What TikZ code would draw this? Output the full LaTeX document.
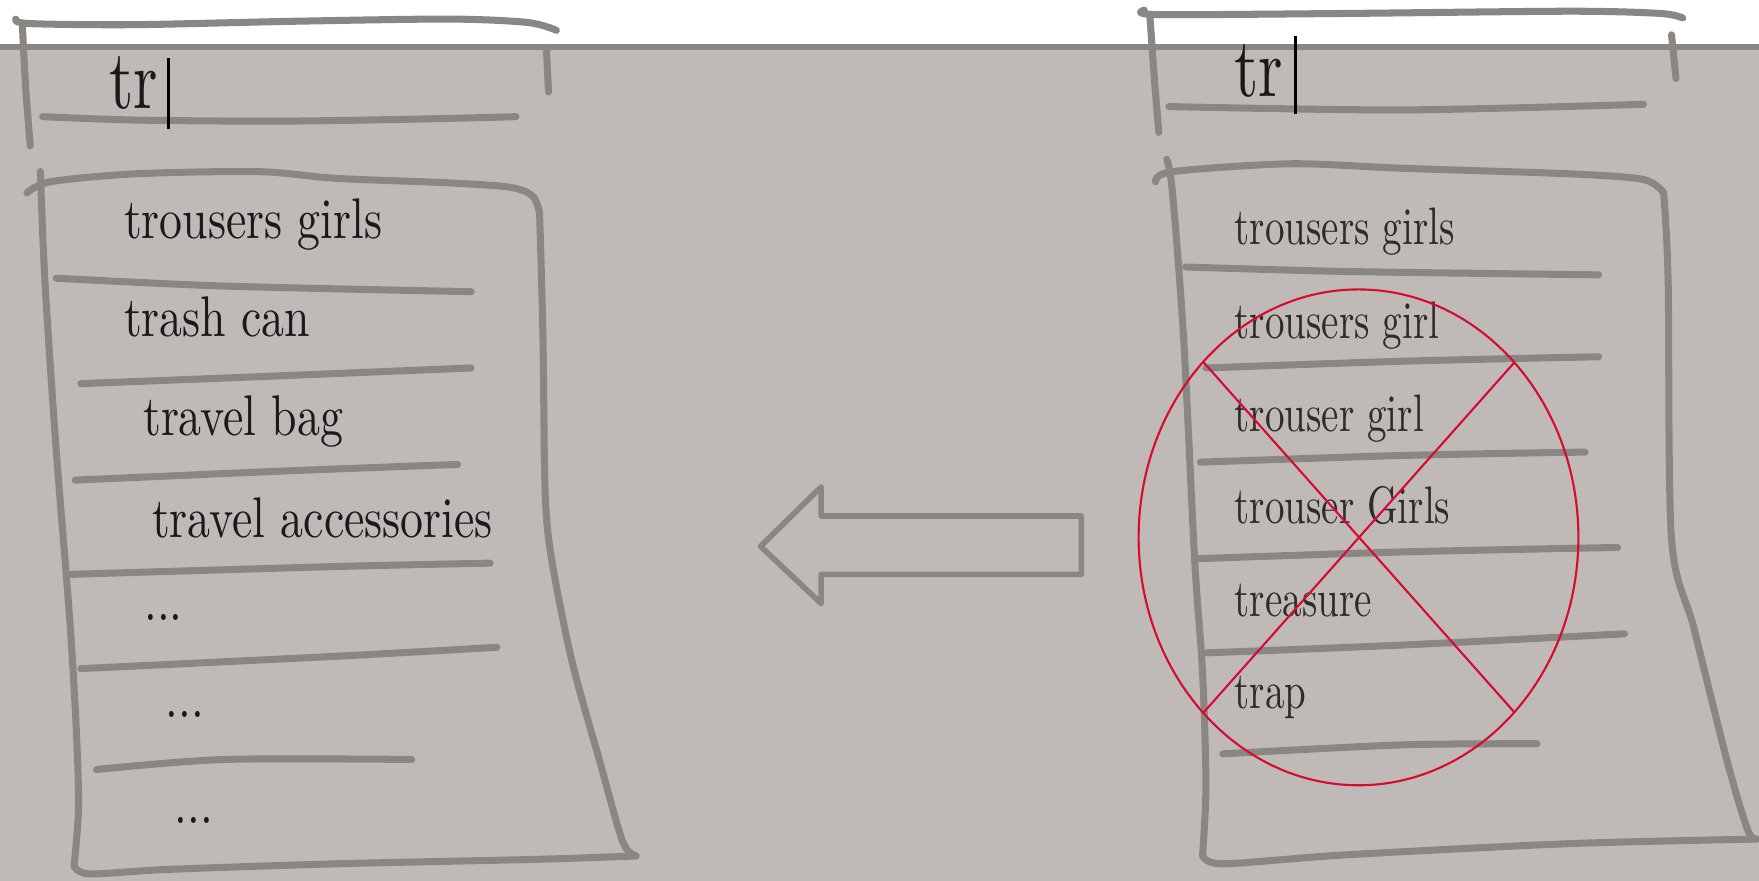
\documentclass[tikz,border=0pt]{standalone}
\usepackage{fontspec}
\newfontfamily\handfont{lmroman10-regular}[Extension=.otf, FakeStretch=0.8]
\newfontfamily\narrowfont{lmroman10-regular}[Extension=.otf, FakeStretch=0.74]
\definecolor{paper}{HTML}{BFBAB7}
\definecolor{penGray}{HTML}{898684}
\definecolor{inkDark}{HTML}{1A1A1A}
\definecolor{inkSoft}{HTML}{2E2C2B}
\definecolor{crossRed}{HTML}{D80A2E}
\tikzset{
  pen/.style={draw=penGray, line width=2pt, line cap=round, line join=round},
  item/.style={anchor=base west, inner sep=0pt, text=inkDark, font=\handfont\fontsize{16.3}{18}\selectfont},
  oldItem/.style={anchor=base west, inner sep=0pt, text=inkSoft, font=\narrowfont\fontsize{15}{17}\selectfont},
  query/.style={anchor=base west, inner sep=0pt, text=inkDark, font=\narrowfont\fontsize{24}{26}\selectfont},
  cursor/.style={draw=black, line width=0.9pt},
  cross/.style={draw=crossRed, line width=0.6pt},
}
\begin{document}
\begin{tikzpicture}[x=0.011218cm, y=-0.011218cm]
  \useasboundingbox (0,0) rectangle (1568,785);
  \fill[white] (0,0) rectangle (1568,42);
  \fill[paper] (0,42) rectangle (1568,785);
  \draw[draw=penGray, line width=1.6pt] (0,42) -- (1568,42);

  % left: search field and new suggestions
  \draw[pen] plot[smooth] coordinates {(14,17) (26,21) (120,22) (260,19) (400,17) (470,20) (496,27)};
  \draw[pen] plot[smooth] coordinates {(20,24) (23,80) (27,130)};
  \draw[pen] (487,42) -- (489,82);
  \draw[pen] plot[smooth] coordinates {(38,104) (120,107) (250,108) (380,106) (460,104)};
  \node[query] (qL) at (97,97) {tr};
  \coordinate (curLtop) at (150,52);
  \coordinate (curLbot) at (150,115);
  \draw[cursor] (curLtop) -- (curLbot);

  \draw[pen] plot[smooth] coordinates {(24,172) (45,162) (120,155) (230,153) (300,159) (400,163) (455,167) (475,175) (481,190)};
  \draw[pen] plot[smooth] coordinates {(481,190) (484,300) (486,440) (492,500) (510,590) (535,680) (555,750) (567,763)};
  \draw[pen] plot[smooth] coordinates {(567,763) (480,766) (300,770) (150,775) (80,779) (66,772)};
  \draw[pen] plot[smooth] coordinates {(36,153) (40,250) (50,400) (62,550) (68,650) (70,720) (66,772)};
  \draw[pen] plot[smooth] coordinates {(50,248) (200,255) (420,260)};
  \draw[pen] plot[smooth] coordinates {(72,342) (250,335) (420,328)};
  \draw[pen] plot[smooth] coordinates {(67,428) (250,420) (408,414)};
  \draw[pen] plot[smooth] coordinates {(63,512) (300,505) (437,502)};
  \draw[pen] plot[smooth] coordinates {(72,596) (300,585) (443,577)};
  \draw[pen] plot[smooth] coordinates {(86,686) (200,677) (367,677)};

  \node[item] (l1) at (110,213) {trousers girls};
  \node[item] (l2) at (110,300) {trash can};
  \node[item] (l3) at (127,388) {travel bag};
  \node[item] (l4) at (135,479) {travel accessories};
  \node[item] (l5) at (128,553) {...};
  \node[item] (l6) at (147,640) {...};
  \node[item] (l7) at (155,734) {...};

  % arrow from old list to new list
  \draw[pen, line width=1.6pt] (678,487) -- (732,434) -- (732,460) -- (964,460)
    -- (964,512) -- (732,512) -- (732,538) -- cycle;

  % right: search field and old suggestions
  \draw[pen] plot[smooth] coordinates {(1020,9) (1032,13) (1200,12) (1400,10) (1480,12) (1500,16)};
  \draw[pen] plot[smooth] coordinates {(1025,14) (1029,70) (1033,118)};
  \draw[pen] (1490,31) -- (1494,70);
  \draw[pen] plot[smooth] coordinates {(1042,95) (1250,98) (1465,93)};
  \node[query] (qR) at (1100,86) {tr};
  \coordinate (curRtop) at (1155,32);
  \coordinate (curRbot) at (1155,102);
  \draw[cursor] (curRtop) -- (curRbot);

  \draw[pen] plot[smooth] coordinates {(1030,162) (1045,153) (1150,146) (1250,150) (1400,155) (1465,160) (1483,172)};
  \draw[pen] plot[smooth] coordinates {(1483,172) (1487,250) (1490,480) (1510,560) (1540,680) (1558,740) (1566,748)};
  \draw[pen] plot[smooth] coordinates {(1566,748) (1400,752) (1200,762) (1090,770) (1072,762)};
  \draw[pen] plot[smooth] coordinates {(1040,142) (1045,170) (1055,300) (1065,500) (1072,600) (1075,700) (1072,762)};
  \draw[pen] plot[smooth] coordinates {(1057,238) (1200,242) (1425,245)};
  \draw[pen] plot[smooth] coordinates {(1075,328) (1250,322) (1425,318)};
  \draw[pen] plot[smooth] coordinates {(1070,412) (1250,406) (1413,403)};
  \draw[pen] plot[smooth] coordinates {(1068,498) (1250,492) (1442,488)};
  \draw[pen] plot[smooth] coordinates {(1075,582) (1250,575) (1448,565)};
  \draw[pen] plot[smooth] coordinates {(1090,672) (1250,664) (1370,663)};

  \node[oldItem] (r1) at (1100,218) {trousers girls};
  \node[oldItem] (r2) at (1100,302) {trousers girl};
  \node[oldItem] (r3) at (1100,385) {trouser girl};
  \node[oldItem] (r4) at (1100,467) {trouser Girls};
  \node[oldItem] (r5) at (1100,550) {treasure};
  \node[oldItem] (r6) at (1100,632) {trap};

  % crossed out
  \coordinate (X) at (1211,479);
  \draw[cross] (X) ellipse [x radius=196, y radius=221];
  \draw[cross] (1073,323) -- (1350,635);
  \draw[cross] (1350,323) -- (1073,635);
\end{tikzpicture}
\end{document}
